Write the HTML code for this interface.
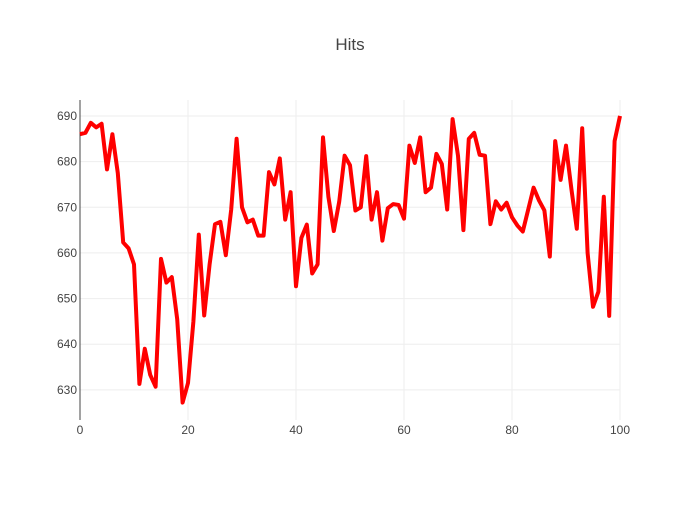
<!DOCTYPE html>
<html><head><meta charset="utf-8"><style>
body{margin:0;background:#fff;font-family:"Liberation Sans",sans-serif}
text{font-family:"Liberation Sans",sans-serif}
</style></head><body>
<svg id="chart" width="700" height="500">
<rect width="700" height="500" fill="#fff"/>
<text x="350" y="50" text-anchor="middle" font-size="17" fill="#444">Hits</text>
<g id="grid"></g><g id="axes"></g><g id="series"></g>
</svg>
<script>
const xTicks=[0,20,40,60,80,100];
const yTicks=[630,640,650,660,670,680,690];
const hits=[686,686.3,688.5,687.5,688.3,678.3,686,677.5,662.3,661,657.5,631.3,639,633.3,630.7,658.7,653.5,654.7,645.5,627.2,631.5,645,664,646.3,657.5,666.3,666.8,659.5,669.5,685,670,666.7,667.3,663.8,663.8,677.7,675,680.7,667.3,673.3,652.7,663.3,666.2,655.5,657.5,685.3,672.3,664.8,671.2,681.3,679.2,669.3,670,681.2,667.3,673.3,662.7,669.8,670.7,670.5,667.5,683.5,679.7,685.3,673.3,674.3,681.7,679.5,669.5,689.3,681.3,665,685,686.3,681.5,681.3,666.3,671.3,669.5,671,667.8,666,664.7,669.5,674.3,671.5,669.3,659.2,684.5,676,683.5,674,665.3,687.3,660,648.2,651.5,672.3,646.2,684.5,690];
const L=80,R=620,T=100,B=420,ymin=623.4,ymax=693.5;
const xs=v=>L+(v-0)/100*(R-L);
const ys=v=>B-(v-ymin)/(ymax-ymin)*(B-T);
const NS="http://www.w3.org/2000/svg";
const grid=document.getElementById('grid'),axes=document.getElementById('axes'),ser=document.getElementById('series');
function mk(tag,attrs,parent){const e=document.createElementNS(NS,tag);for(const k in attrs)e.setAttribute(k,attrs[k]);parent.appendChild(e);return e;}
yTicks.forEach(t=>{
 const g=mk('line',{x1:L,x2:R,y1:ys(t),y2:ys(t),stroke:'#eee','stroke-width':1},grid);
 
 
 const tx=mk('text',{x:L-3,y:ys(t)+4,'text-anchor':'end','font-size':12,fill:'#444'},axes);
 tx.textContent=t;
 
 
});
xTicks.forEach(t=>{
 if(t>0){const g=mk('line',{x1:xs(t),x2:xs(t),y1:T,y2:B,stroke:'#eee','stroke-width':1},grid);
 
 }
 const tx=mk('text',{x:xs(t),y:B+14,'text-anchor':'middle','font-size':12,fill:'#444'},axes);
 tx.textContent=t;
 
 
});
const ax=mk('line',{x1:L,x2:L,y1:T,y2:B,stroke:'#444','stroke-width':1},axes);


const p=mk('polyline',{points:hits.map((v,i)=>xs(i)+','+ys(v)).join(' '),fill:'none',stroke:'#ff0000','stroke-width':4,'stroke-linejoin':'round'},ser);


</script>
</body></html>
